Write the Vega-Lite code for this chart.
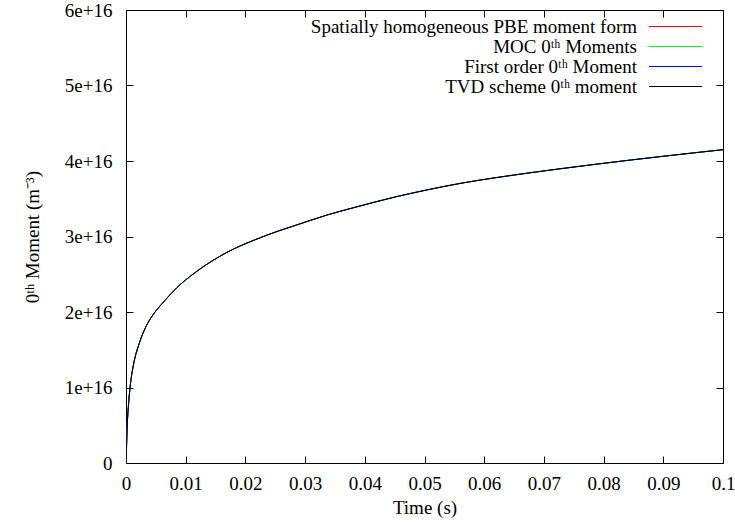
{
  "$schema": "https://vega.github.io/schema/vega-lite/v6.json",
  "width": 597,
  "height": 453,
  "autosize": "none",
  "padding": {"left": 126, "top": 10, "right": 12, "bottom": 61},
  "background": "white",
  "config": {
    "view": {"stroke": "black", "strokeWidth": 1},
    "font": "Liberation Serif",
    "axis": {
      "grid": false,
      "domain": false,
      "tickColor": "black",
      "tickSize": -7,
      "labelFont": "Liberation Serif",
      "labelFontSize": 19,
      "labelColor": "black",
      "titleFont": "Liberation Serif",
      "titleFontSize": 19,
      "titleFontWeight": "normal",
      "titleColor": "black"
    }
  },
  "data": {
    "values": [
      {"t": 0, "a": 0, "b": 0, "c": 0, "d": 0},
      {"t": 0.00003, "a": 0.08e16, "b": 0.26e16, "c": 0.08e16, "d": 0.08e16},
      {"t": 0.0001, "a": 0.24e16, "b": 0.3e16, "c": 0.24e16, "d": 0.24e16},
      {"t": 0.0002, "a": 0.48e16, "b": 0.48e16, "c": 0.48e16, "d": 0.48e16},
      {"t": 0.00045, "a": 0.8e16, "b": 0.8e16, "c": 0.8e16, "d": 0.8e16},
      {"t": 0.0008, "a": 1.08e16, "b": 1.08e16, "c": 1.08e16, "d": 1.08e16},
      {"t": 0.0013, "a": 1.32e16, "b": 1.32e16, "c": 1.32e16, "d": 1.32e16},
      {"t": 0.0022, "a": 1.58e16, "b": 1.58e16, "c": 1.58e16, "d": 1.58e16},
      {"t": 0.0033, "a": 1.8e16, "b": 1.8e16, "c": 1.8e16, "d": 1.8e16},
      {"t": 0.0045, "a": 1.96e16, "b": 1.96e16, "c": 1.96e16, "d": 1.96e16},
      {"t": 0.0057, "a": 2.08e16, "b": 2.08e16, "c": 2.08e16, "d": 2.08e16},
      {"t": 0.0067, "a": 2.17e16, "b": 2.17e16, "c": 2.17e16, "d": 2.17e16},
      {"t": 0.008, "a": 2.28e16, "b": 2.28e16, "c": 2.28e16, "d": 2.28e16},
      {"t": 0.0091, "a": 2.365e16, "b": 2.365e16, "c": 2.365e16, "d": 2.365e16},
      {"t": 0.0108, "a": 2.475e16, "b": 2.475e16, "c": 2.475e16, "d": 2.475e16},
      {"t": 0.0124, "a": 2.57e16, "b": 2.57e16, "c": 2.57e16, "d": 2.57e16},
      {"t": 0.0145, "a": 2.68e16, "b": 2.68e16, "c": 2.68e16, "d": 2.68e16},
      {"t": 0.0169, "a": 2.79e16, "b": 2.79e16, "c": 2.79e16, "d": 2.79e16},
      {"t": 0.0214, "a": 2.95e16, "b": 2.95e16, "c": 2.95e16, "d": 2.95e16},
      {"t": 0.0256, "a": 3.075e16, "b": 3.075e16, "c": 3.075e16, "d": 3.075e16},
      {"t": 0.0281, "a": 3.14e16, "b": 3.14e16, "c": 3.14e16, "d": 3.14e16},
      {"t": 0.0337, "a": 3.285e16, "b": 3.285e16, "c": 3.285e16, "d": 3.285e16},
      {"t": 0.039, "a": 3.4e16, "b": 3.4e16, "c": 3.4e16, "d": 3.4e16},
      {"t": 0.0449, "a": 3.52e16, "b": 3.52e16, "c": 3.52e16, "d": 3.52e16},
      {"t": 0.05, "a": 3.61e16, "b": 3.61e16, "c": 3.61e16, "d": 3.61e16},
      {"t": 0.0561, "a": 3.705e16, "b": 3.705e16, "c": 3.705e16, "d": 3.705e16},
      {"t": 0.062, "a": 3.78e16, "b": 3.78e16, "c": 3.78e16, "d": 3.78e16},
      {"t": 0.0673, "a": 3.84e16, "b": 3.84e16, "c": 3.84e16, "d": 3.84e16},
      {"t": 0.073, "a": 3.9e16, "b": 3.9e16, "c": 3.9e16, "d": 3.9e16},
      {"t": 0.0785, "a": 3.955e16, "b": 3.955e16, "c": 3.955e16, "d": 3.955e16},
      {"t": 0.084, "a": 4.008e16, "b": 4.008e16, "c": 4.008e16, "d": 4.008e16},
      {"t": 0.0897, "a": 4.06e16, "b": 4.06e16, "c": 4.06e16, "d": 4.06e16},
      {"t": 0.095, "a": 4.107e16, "b": 4.107e16, "c": 4.107e16, "d": 4.107e16},
      {"t": 0.1, "a": 4.15e16, "b": 4.15e16, "c": 4.15e16, "d": 4.15e16}
    ]
  },
  "transform": [
    {"fold": ["a", "b", "c", "d"], "as": ["series", "v"]}
  ],
  "layer": [
    {
      "mark": {"type": "line", "strokeWidth": 1, "interpolate": "monotone", "clip": true},
      "encoding": {
        "x": {
          "field": "t", "type": "quantitative",
          "scale": {"domain": [0, 0.1], "nice": false, "zero": false},
          "axis": {
            "values": [0, 0.01, 0.02, 0.03, 0.04, 0.05, 0.06, 0.07, 0.08, 0.09, 0.1],
            "format": ".2~f",
            "labelPadding": 18,
            "title": "Time (s)",
            "titlePadding": 5,
            "labelFlush": false,
            "labelOverlap": false
          }
        },
        "y": {
          "field": "v", "type": "quantitative",
          "scale": {"domain": [0, 6e16], "nice": false},
          "axis": {
            "values": [0, 1e16, 2e16, 3e16, 4e16, 5e16, 6e16],
            "labelExpr": "datum.value == 0 ? '0' : format(datum.value, '.0e')",
            "labelPadding": 21,
            "title": "0ᵗʰ Moment (m⁻³)",
            "titlePadding": 22,
            "labelFlush": false,
            "labelOverlap": false
          }
        },
        "color": {
          "field": "series", "type": "nominal",
          "scale": {"domain": ["a", "b", "c", "d"], "range": ["#ff0000", "#00ff00", "#0000ff", "#000000"]},
          "legend": {
            "orient": "none",
            "legendX": 540,
            "legendY": 7,
            "title": null,
            "labelExpr": "datum.value == 'a' ? 'Spatially homogeneous PBE moment form' : datum.value == 'b' ? 'MOC 0ᵗʰ Moments' : datum.value == 'c' ? 'First order 0ᵗʰ Moment' : 'TVD scheme 0ᵗʰ moment'",
            "symbolType": "M-5.3,0H5.3",
            "symbolSize": 100,
            "symbolStrokeWidth": 1,
            "labelAlign": "right",
            "labelOffset": -48,
            "labelFont": "Liberation Serif",
            "labelFontSize": 19,
            "labelColor": "black",
            "labelLimit": 0,
            "rowPadding": 0,
            "padding": 0
          }
        }
      }
    },
    {
      "mark": {"type": "line", "strokeOpacity": 0},
      "encoding": {
        "x": {"field": "t", "type": "quantitative",
          "axis": {"orient": "top", "labels": false, "title": null, "values": [0, 0.01, 0.02, 0.03, 0.04, 0.05, 0.06, 0.07, 0.08, 0.09, 0.1]}},
        "y": {"field": "v", "type": "quantitative",
          "axis": {"orient": "right", "labels": false, "title": null, "values": [0, 1e16, 2e16, 3e16, 4e16, 5e16, 6e16]}}
      }
    }
  ],
  "resolve": {"axis": {"x": "independent", "y": "independent"}}
}
